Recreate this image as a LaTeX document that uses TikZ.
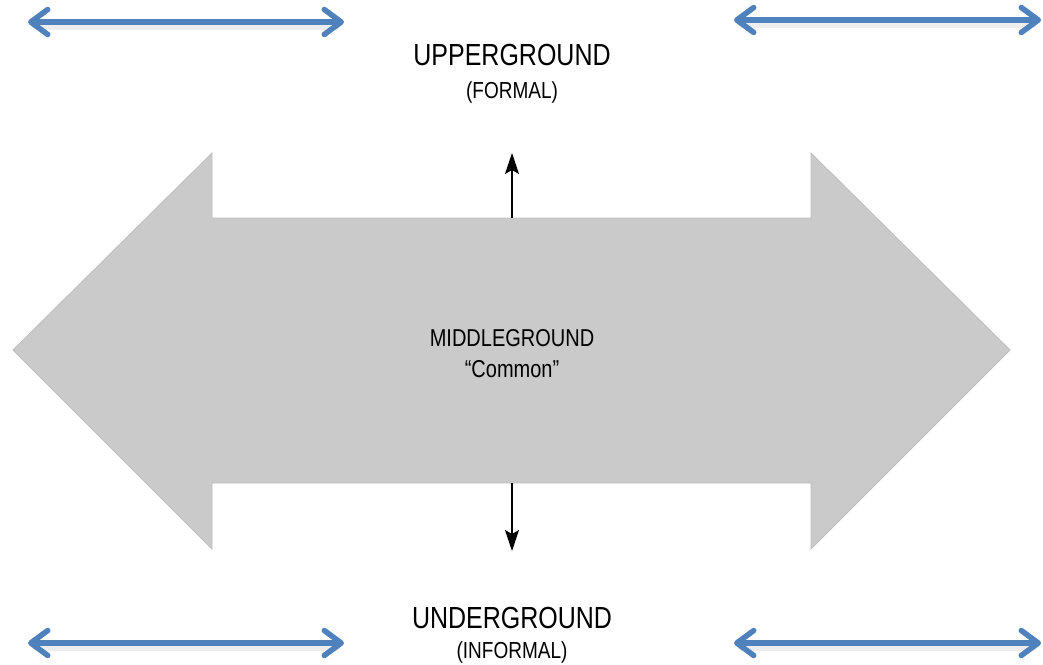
\documentclass[tikz,border=0pt]{standalone}
\usepackage{fontspec}
\setmainfont{Liberation Sans}
\usetikzlibrary{arrows.meta}
\definecolor{bigfill}{RGB}{202,202,202}
\definecolor{bigedge}{RGB}{190,190,190}
\definecolor{blueline}{RGB}{79,129,189}
\newcommand{\tallfont}[1]{\scalebox{1}[1.22]{#1}}
\tikzset{
  x=1pt, y=-1pt,
  bluearrow/.style={draw=blueline, line width=5.5pt, line cap=round,
    {Straight Barb[length=17pt,width=25pt,line cap=round,line join=round]}-{Straight Barb[length=17pt,width=25pt,line cap=round,line join=round]}},
  blueshadow/.style={draw=black, opacity=0.07, line width=8pt, line cap=round},
  blackarrow/.style={draw=black, line width=1.3pt, -{Stealth[length=21pt,width=14pt,inset=4pt]}},
  bigtext/.style={anchor=base, inner sep=0pt, font=\fontsize{25}{30}\selectfont},
  smalltext/.style={anchor=base, inner sep=0pt, font=\fontsize{19}{23}\selectfont},
  midtext/.style={anchor=base, inner sep=0pt, font=\fontsize{20}{24}\selectfont},
}
\begin{document}
\begin{tikzpicture}
\useasboundingbox (0,0) rectangle (1043,664);
% big double arrow
\path[fill=bigfill, draw=bigedge, line width=0.8pt]
  (13,350) -- (212,153) -- (212,218) -- (811,218) -- (811,153) -- (1010,350)
  -- (811,549) -- (811,483) -- (212,483) -- (212,549) -- cycle;
% blue arrow end points
\coordinate (tl1) at (28,22);  \coordinate (tl2) at (344,22);
\coordinate (tr1) at (734,20); \coordinate (tr2) at (1041,20);
\coordinate (bl1) at (28,643); \coordinate (bl2) at (344,643);
\coordinate (br1) at (734,643); \coordinate (br2) at (1041,643);
\foreach \a/\b in {tl1/tl2, tr1/tr2, bl1/bl2, br1/br2}{
  \draw[blueshadow] ([xshift=8pt,yshift=-4pt]\a) -- ([xshift=-8pt,yshift=-4pt]\b);
  \draw[bluearrow] (\a) -- (\b);
}
% texts
\node[bigtext] (upper) at (512,65) {\tallfont{UPPERGROUND}};
\node[smalltext] (formal) at (512,98) {\tallfont{(FORMAL)}};
\node[midtext] (middle) at (512,346) {\tallfont{MIDDLEGROUND}};
\node[midtext] (common) at (512,377) {\tallfont{``Common''}};
\node[bigtext] (under) at (512,628) {\tallfont{UNDERGROUND}};
\node[smalltext] (informal) at (512,658) {\tallfont{(INFORMAL)}};
% small black arrows
\coordinate (shafttop) at (512,218);
\coordinate (uptip) at (512,153);
\coordinate (shaftbot) at (512,483);
\coordinate (downtip) at (512,551);
\draw[blackarrow] (shafttop) -- (uptip);
\draw[blackarrow] (shaftbot) -- (downtip);
\end{tikzpicture}
\end{document}
